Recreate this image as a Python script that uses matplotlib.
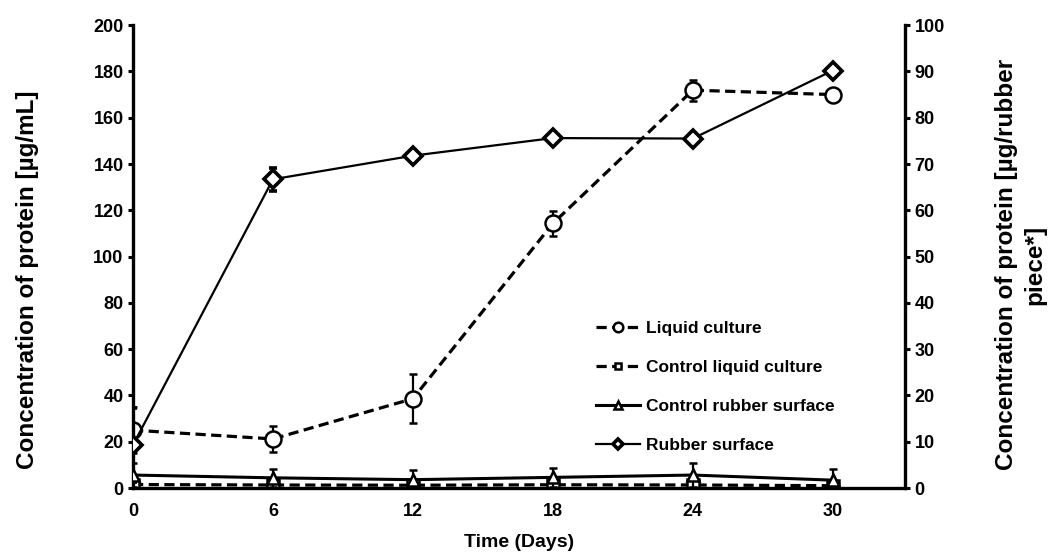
"""Protein concentration over time for liquid culture and rubber surface samples."""

import matplotlib.pyplot as plt

plt.rcParams["font.family"] = ["Liberation Sans", "DejaVu Sans"]
plt.rcParams["font.weight"] = "bold"

days = [0, 6, 12, 18, 24, 30]

# left axis: µg/mL
liquid = [25.0, 21.2, 38.6, 114.3, 171.9, 170.0]
liquid_err = [10.0, 5.6, 10.6, 5.5, 4.6, 1.5]
control_liquid = [1.5, 1.3, 1.2, 1.4, 1.3, 1.0]
control_liquid_err = [1.0, 1.0, 1.0, 1.0, 1.0, 1.0]

# right axis: µg/rubber piece
rubber = [9.3, 66.7, 71.8, 75.6, 75.5, 90.2]
rubber_err = [8.0, 2.5, 1.0, 1.0, 1.0, 1.0]
control_rubber = [2.8, 2.2, 1.8, 2.3, 2.8, 1.7]
control_rubber_err = [2.5, 2.0, 2.0, 2.0, 2.5, 2.3]

labels = ["Liquid culture", "Control liquid culture", "Control rubber surface", "Rubber surface"]

DASH = (0, (3.2, 1.7))

fig = plt.figure(figsize=(10.54, 5.55), dpi=100)
ax = fig.add_axes([0.1262, 0.1207, 0.7325, 0.834])
ax2 = ax.twinx()

err_kw = dict(ecolor="black", elinewidth=1.6, capsize=3.2, capthick=1.6)

h_liq = ax.errorbar(days, liquid, yerr=liquid_err, color="black", lw=2.3, ls=DASH,
                    marker="o", ms=11.5, mfc="white", mec="black", mew=1.8, **err_kw)
h_cliq = ax.errorbar(days, control_liquid, yerr=control_liquid_err, color="black", lw=2.3,
                     ls=DASH, marker="s", ms=8, mfc="white", mec="black", mew=1.8, **err_kw)
h_crub = ax2.errorbar(days, control_rubber, yerr=control_rubber_err, color="black", lw=2.2,
                      marker="^", ms=9, mfc="white", mec="black", mew=1.8, **err_kw)
h_rub = ax2.errorbar(days, rubber, yerr=rubber_err, color="black", lw=1.6,
                     marker="D", ms=9, mfc="white", mec="black", mew=2.6, **err_kw)

ax.set_xlim(0, 33.1)
ax.set_ylim(0, 200)
ax2.set_ylim(0, 100)
ax.set_xticks(days)
ax.set_yticks(range(0, 201, 20))
ax2.set_yticks(range(0, 101, 10))

for a in (ax, ax2):
    a.spines["top"].set_visible(False)
    for s in ("left", "right", "bottom"):
        a.spines[s].set_linewidth(2.4)
    a.tick_params(axis="y", direction="out", length=3.8, width=2.2, labelsize=13, pad=3)
ax.tick_params(axis="x", length=0, labelsize=13, pad=10.5)
ax.spines["right"].set_visible(False)
ax2.spines["left"].set_visible(False)
ax2.spines["bottom"].set_visible(False)

ax.set_xlabel("Time (Days)", fontsize=14, fontweight="bold")
ax.xaxis.set_label_coords(0.5, -0.1)
ax.set_ylabel("Concentration of protein [µg/mL]", fontsize=17.5, fontweight="bold")
ax.yaxis.set_label_coords(-0.122, 0.451)
ax2.set_ylabel("Concentration of protein [µg/rubber\npiece*]", fontsize=17.5,
               fontweight="bold", multialignment="center", linespacing=1.3)
ax2.yaxis.set_label_coords(1.116, 0.482)

ax.legend([h_liq[0], h_cliq[0], h_crub[0], h_rub[0]], labels,
          loc="upper left", bbox_to_anchor=(0.58, 0.395), frameon=False, fontsize=12.5,
          markerscale=0.6, handlelength=2.5, handletextpad=0.35, labelspacing=1.37)

fig.savefig("out.png", dpi=100)
